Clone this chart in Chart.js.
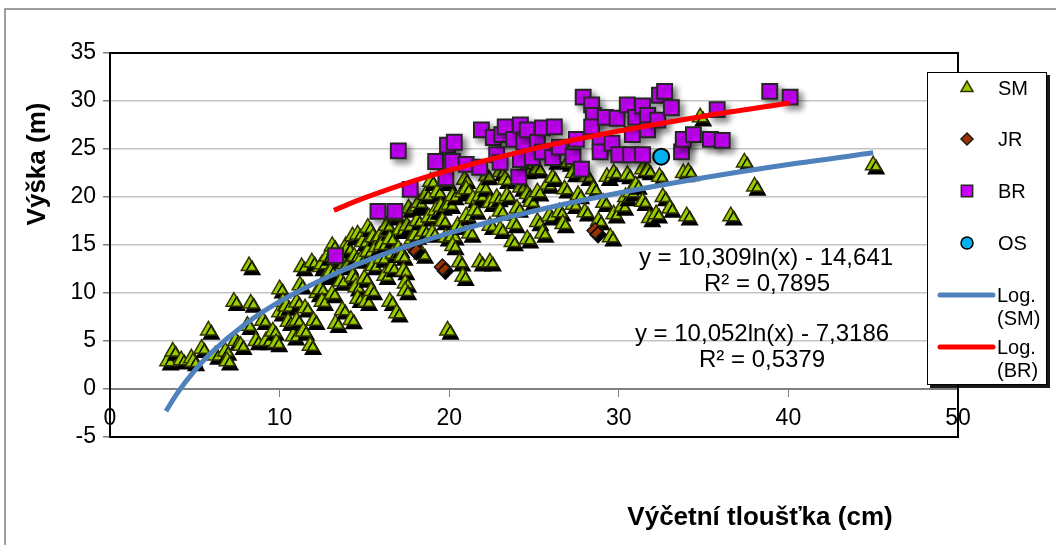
<!DOCTYPE html>
<html>
<head>
<meta charset="utf-8">
<script src="https://cdn.jsdelivr.net/npm/chart.js@4.4.1/dist/chart.umd.min.js"></script>
<style>
  html, body { margin: 0; padding: 0; background: #fff; }
  #wrap { width: 1056px; height: 545px; position: relative; }
</style>
</head>
<body>
<div id="wrap"><canvas id="chart"></canvas></div>
<script>
// diameter (cm), height (m) pairs
const smPoints = [
  [3.4,2.9],[3.7,3.9],[4.2,3.0],[4.8,3.2],[4.9,2.8],[5.4,4.2],[5.8,6.1],[6.2,3.5],[6.8,3.9],[6.9,2.9],
  [7.3,9.1],[7.4,5.0],[7.7,4.5],[8.1,6.6],[8.2,12.8],[8.3,8.9],[8.6,5.0],[9.0,7.1],[9.2,5.0],[9.6,6.0],
  [9.8,4.8],[10.0,10.4],[10.0,8.0],[10.2,9.1],[10.4,8.6],[10.5,7.0],[10.8,5.5],[11.0,7.1],[11.0,9.0],[11.2,10.8],
  [11.3,12.7],[11.4,6.0],[11.5,8.4],[11.8,4.5],[11.9,13.2],[12.0,7.1],[12.2,10.0],[12.4,12.7],[12.4,10.4],[12.5,9.1],
  [12.5,13.0],[12.8,11.8],[12.8,13.8],[13.0,12.2],[13.1,14.9],[13.1,9.9],[13.3,6.8],[13.5,13.5],[13.6,11.2],[13.7,8.2],
  [13.8,13.0],[13.9,14.9],[14.0,12.8],[14.0,14.6],[14.2,7.2],[14.3,11.7],[14.3,15.9],[14.4,13.8],[14.5,10.6],[14.6,16.1],
  [14.6,9.4],[14.8,13.5],[14.9,15.3],[15.0,11.5],[15.1,9.1],[15.2,14.3],[15.2,16.8],[15.4,10.2],[15.5,12.8],[15.5,15.8],
  [15.7,14.8],[15.9,15.9],[16.0,13.6],[16.0,15.0],[16.2,11.8],[16.3,16.4],[16.3,17.0],[16.5,9.1],[16.5,15.6],[16.6,12.6],
  [16.7,14.1],[16.8,18.0],[16.9,7.9],[17.0,14.6],[17.1,16.6],[17.2,13.8],[17.3,12.3],[17.4,11.0],[17.4,10.2],[17.5,17.0],
  [17.6,18.8],[17.8,15.6],[18.0,16.0],[18.1,17.5],[18.1,19.0],[18.2,19.4],[18.4,14.0],[18.5,16.4],[18.6,20.2],[18.8,17.9],
  [18.9,21.6],[19.0,16.2],[19.2,18.6],[19.3,20.5],[19.5,19.0],[19.6,17.5],[19.8,15.8],[19.8,21.6],[19.9,6.1],[20.0,19.2],
  [20.2,20.1],[20.2,15.9],[20.2,14.9],[20.5,17.0],[20.6,13.2],[20.8,11.7],[20.8,20.5],[20.9,21.8],[21.0,18.0],[21.0,20.8],
  [21.2,16.2],[21.4,19.8],[21.5,18.6],[21.8,20.1],[21.8,13.2],[22.0,21.0],[22.2,22.2],[22.4,19.4],[22.4,17.0],[22.4,13.2],
  [22.8,19.9],[23.0,18.5],[23.0,16.6],[23.0,22.6],[23.3,21.8],[23.4,20.1],[23.7,15.3],[23.8,17.2],[24.0,18.8],[24.2,21.0],
  [24.5,22.8],[24.6,20.3],[24.6,15.6],[24.8,19.5],[25.0,23.4],[25.2,17.4],[25.2,20.5],[25.2,22.9],[25.5,16.2],[25.8,21.3],
  [25.9,18.0],[26.1,22.0],[26.2,23.8],[26.5,18.4],[26.7,17.2],[26.8,20.8],[27.0,23.6],[27.3,19.2],[27.3,22.5],[27.6,20.2],
  [28.0,18.4],[28.1,22.1],[28.5,20.8],[28.8,17.5],[29.1,19.4],[29.3,22.1],[29.5,15.8],[29.7,18.2],[29.7,22.5],[30.2,19.0],
  [30.4,20.0],[30.5,22.3],[30.7,20.5],[31.0,21.2],[31.4,22.9],[31.4,19.5],[31.7,22.7],[31.8,17.8],[32.2,18.2],[32.4,22.1],
  [32.6,20.0],[33.0,18.8],[33.8,22.5],[34.0,18.0],[34.1,22.6],[34.8,28.3],[36.6,18.0],[37.4,23.6],[38.0,21.1],[45.0,23.3]
];
const jrPoints = [[17.9,14.7],[19.6,12.7],[28.6,16.5]];
const brPoints = [
  [13.3,13.9],[15.8,18.5],[16.8,18.5],[17.0,24.8],[17.7,20.8],[19.2,23.7],[19.8,22.0],[19.9,25.4],[20.3,25.7],[20.2,23.7],
  [21.0,23.4],[21.8,23.1],[21.9,27.0],[22.6,26.2],[22.8,24.4],[23.0,23.6],[23.1,26.5],[23.3,27.3],[23.8,26.0],[24.1,22.1],
  [24.2,27.5],[24.2,23.9],[24.4,25.7],[24.6,27.0],[24.9,24.1],[25.2,25.7],[25.5,27.2],[25.5,24.7],[26.1,24.1],[26.2,27.3],
  [26.5,25.2],[27.3,24.2],[27.5,26.0],[27.8,22.9],[27.9,30.4],[28.4,29.6],[28.5,28.5],[28.4,27.3],[28.9,25.7],[28.9,24.7],
  [29.2,28.3],[29.6,25.6],[29.9,28.2],[30.0,24.4],[30.5,29.6],[30.7,24.4],[30.8,26.5],[31.0,28.3],[31.4,29.5],[31.4,24.4],
  [31.7,28.5],[31.7,27.0],[32.3,28.0],[32.4,30.6],[32.7,31.0],[33.1,29.3],[33.7,24.7],[33.8,26.0],[34.4,26.5],[35.4,26.0],
  [35.8,29.1],[36.1,25.9],[38.9,31.0],[40.1,30.4]
];
const osPoints = [[32.5,24.2]];

// trend curves, points
const logSmX = [3.3, 4, 5, 6, 8, 10, 13, 16, 20, 25, 30, 35, 40, 45];
const logSmY = [-2.3, -0.35, 1.95, 3.83, 6.8, 9.1, 11.8, 13.94, 16.24, 18.54, 20.42, 22.01, 23.39, 24.6];
const logBrX = [13.2, 15, 18, 20, 25, 30, 35, 40.1];
const logBrY = [18.62, 19.9, 21.73, 22.79, 25.04, 26.87, 28.42, 29.79];

const eqSm = ['y = 10,309ln(x) - 14,641', 'R\u00b2 = 0,7895'];
const eqBr = ['y = 10,052ln(x) - 7,3186', 'R\u00b2 = 0,5379'];
const xTitle = 'Výčetní tloušťka (cm)';
const yTitle = 'Výška (m)';

const toXY = arr => arr.map(p => ({ x: p[0], y: p[1] }));
const zip = (xs, ys) => xs.map((x, i) => ({ x: x, y: ys[i] }));

const FONT = '"Liberation Sans", Arial, sans-serif';

// per-dataset drop shadows like the Excel markers
const shadowPlugin = {
  id: 'shadows',
  beforeDatasetDraw(chart, args) {
    const s = chart.data.datasets[args.index].shadow;
    if (!s) return;
    const c = chart.ctx;
    c.save();
    c.shadowColor = s.color;
    c.shadowBlur = s.blur;
    c.shadowOffsetX = s.dx;
    c.shadowOffsetY = s.dy;
  },
  afterDatasetDraw(chart, args) {
    if (chart.data.datasets[args.index].shadow) chart.ctx.restore();
  }
};

const decorPlugin = {
  id: 'decor',
  beforeDatasetsDraw(chart) {
    const c = chart.ctx, a = chart.chartArea;
    c.save();
    c.strokeStyle = '#000';
    c.lineWidth = 2;
    c.strokeRect(a.left, a.top, a.right - a.left, a.bottom - a.top);
    c.restore();
  },
  afterDraw(chart) {
    const c = chart.ctx;
    c.save();
    // outer frame
    c.strokeStyle = '#7f7f7f';
    c.lineWidth = 1.5;
    c.strokeRect(5, 9, 1200, 700);

    // axis titles
    c.fillStyle = '#000';
    c.font = 'bold 26px ' + FONT;
    c.textAlign = 'center';
    c.textBaseline = 'middle';
    c.fillText(xTitle, 760, 518);
    c.save();
    c.translate(38, 164);
    c.rotate(-Math.PI / 2);
    c.fillText(yTitle, 0, 0);
    c.restore();

    // trendline equations
    c.font = '24px ' + FONT;
    c.fillText(eqSm[0], 766, 258);
    c.fillText(eqSm[1], 767, 284);
    c.fillText(eqBr[0], 762, 334);
    c.fillText(eqBr[1], 762, 360);

    // legend box
    c.save();
    c.shadowColor = 'rgba(0,0,0,0.9)';
    c.shadowOffsetX = 3;
    c.shadowOffsetY = 3;
    c.fillStyle = '#fff';
    c.fillRect(927, 72, 120, 313);
    c.restore();
    c.strokeStyle = '#000';
    c.lineWidth = 1;
    c.strokeRect(927.5, 72.5, 119, 312);

    const ds = chart.data.datasets;
    const rows = [
      { d: ds[0], y: 88, r: 7 },
      { d: ds[1], y: 139, r: 6 },
      { d: ds[2], y: 191, r: 8 },
      { d: ds[3], y: 243, r: 6 }
    ];
    c.font = '20px ' + FONT;
    c.textAlign = 'left';
    rows.forEach(row => {
      c.fillStyle = row.d.backgroundColor;
      c.strokeStyle = row.d.borderColor;
      c.lineWidth = 1.5;
      Chart.helpers.drawPoint(c, { pointStyle: row.d.pointStyle, radius: row.r, rotation: 0, borderWidth: 1.5 }, 967, row.y);
      c.fillStyle = '#000';
      c.fillText(row.d.label, 998, row.y + 1);
    });
    [{ d: ds[4], y: 295, t2: '(SM)' }, { d: ds[5], y: 347, t2: '(BR)' }].forEach(row => {
      c.strokeStyle = row.d.borderColor;
      c.lineWidth = 5;
      c.lineCap = 'round';
      c.beginPath();
      c.moveTo(940, row.y);
      c.lineTo(993, row.y);
      c.stroke();
      c.fillStyle = '#000';
      c.fillText('Log.', 997, row.y + 1);
      c.fillText(row.t2, 997, row.y + 24);
    });
    c.restore();
  }
};

new Chart(document.getElementById('chart'), {
  type: 'scatter',
  data: {
    datasets: [
      { label: 'SM', data: toXY(smPoints), pointStyle: 'triangle', pointRadius: 9,
        backgroundColor: '#99cc00', borderColor: '#333300', borderWidth: 1.5, order: 5,
        shadow: { color: '#000', blur: 0, dx: 3, dy: 4 } },
      { label: 'JR', data: toXY(jrPoints), pointStyle: 'rectRot', pointRadius: 8,
        backgroundColor: '#993300', borderColor: '#1a1a1a', borderWidth: 1.5, order: 3,
        shadow: { color: '#000', blur: 0, dx: 3, dy: 4 } },
      { label: 'BR', data: toXY(brPoints), pointStyle: 'rect', pointRadius: 10.5,
        backgroundColor: '#cc00ff', borderColor: '#262626', borderWidth: 2, order: 4,
        shadow: { color: 'rgba(0,0,0,0.45)', blur: 6, dx: 4, dy: 4 } },
      { label: 'OS', data: toXY(osPoints), pointStyle: 'circle', pointRadius: 8,
        backgroundColor: '#00b0f0', borderColor: '#000', borderWidth: 2, order: 2 },
      { label: 'Log. (SM)', data: zip(logSmX, logSmY), showLine: true, pointRadius: 0,
        borderColor: '#4f81bd', borderWidth: 5, cubicInterpolationMode: 'monotone', order: 1 },
      { label: 'Log. (BR)', data: zip(logBrX, logBrY), showLine: true, pointRadius: 0,
        borderColor: '#ff0000', borderWidth: 5, cubicInterpolationMode: 'monotone', order: 0 }
    ]
  },
  options: {
    responsive: true,
    maintainAspectRatio: false,
    animation: false,
    layout: { padding: { left: 0, top: 53, right: 98, bottom: 108 } },
    plugins: { legend: { display: false }, tooltip: { enabled: false } },
    scales: {
      x: {
        type: 'linear', min: 0, max: 50,
        position: { y: 0 },
        border: { color: '#808080', width: 2 },
        grid: { drawOnChartArea: false, drawTicks: true, tickLength: 7, tickColor: '#808080' },
        ticks: { stepSize: 10, padding: 9, maxRotation: 0, autoSkip: false, color: '#000',
                 font: { family: FONT, size: 23 } }
      },
      y: {
        type: 'linear', min: -5, max: 35,
        border: { color: '#000', width: 2 },
        grid: {
          color: ctx => (ctx.tick && (ctx.tick.value === 0 || ctx.tick.value === -5 || ctx.tick.value === 35)) ? 'rgba(0,0,0,0)' : '#c4c4c4',
          lineWidth: 1.5, tickLength: 7, tickColor: '#808080'
        },
        ticks: { stepSize: 5, padding: 7, color: '#000', font: { family: FONT, size: 23 } },
        afterFit: scale => { scale.width = 110; }
      }
    }
  },
  plugins: [shadowPlugin, decorPlugin]
});
</script>
</body>
</html>
